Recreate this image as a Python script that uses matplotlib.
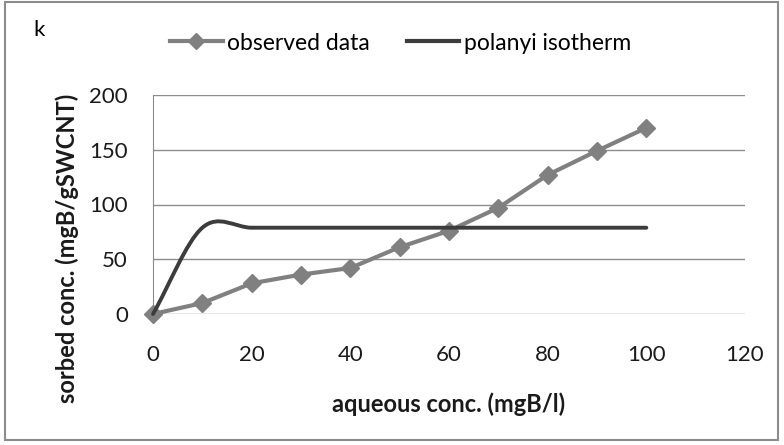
import numpy as np
import matplotlib
matplotlib.use('Agg')
import matplotlib.pyplot as plt
from matplotlib.path import Path
from matplotlib.patches import PathPatch, Rectangle
from matplotlib.lines import Line2D

plt.rcParams['font.family'] = ['Lato', 'DejaVu Sans']

## data
aqueous = [0, 10, 20, 30, 40, 50, 60, 70, 80, 90, 100]
observed = [0, 10, 28, 36, 42, 61, 76, 97, 127, 149, 170]
polanyi = [0, 78.8, 78.8, 78.8, 78.8, 78.8, 78.8, 78.8, 78.8, 78.8, 78.8]
xticks = [0, 20, 40, 60, 80, 100, 120]
yticks = [0, 50, 100, 150, 200]


def smooth_path(xs, ys):
    ## Excel-style smoothed line: cubic bezier segments through each point
    pts = np.column_stack([xs, ys]).astype(float)
    n = len(pts)
    verts = [pts[0]]
    codes = [Path.MOVETO]
    for i in range(n - 1):
        p0 = pts[i]
        p1 = pts[i + 1]
        if i == 0:
            t0 = (p1 - p0) / 3.0
        else:
            t0 = (p1 - pts[i - 1]) / 6.0
        if i + 2 < n:
            t1 = (pts[i + 2] - p0) / 6.0
        else:
            t1 = (p1 - p0) / 3.0
        verts += [p0 + t0, p1 - t1, p1]
        codes += [Path.CURVE4] * 3
    return Path(verts, codes)


fig = plt.figure(figsize=(7.84, 4.45), dpi=100)
ax = fig.add_axes([153 / 784, 1 - 314 / 445, (745 - 153) / 784, (314 - 95) / 445])

ax.set_xlim(0, 120)
ax.set_ylim(0, 200)
ax.set_xticks(xticks)
ax.set_yticks(yticks)
ax.tick_params(length=0, labelsize=16, colors='#1a1a1a')
ax.tick_params(axis='x', pad=22)
ax.tick_params(axis='y', pad=18)
ax.grid(axis='y', color='#8c8c8c', linewidth=1)
ax.set_axisbelow(True)
for side in ['top', 'right', 'bottom']:
    ax.spines[side].set_visible(False)
ax.spines['left'].set_color('#8c8c8c')

ax.plot(aqueous, observed, color='#808080', linewidth=3, marker='D',
        markersize=9.5, markeredgecolor='#808080', clip_on=False, zorder=3)
ax.add_patch(PathPatch(smooth_path(aqueous, polanyi), facecolor='none',
                       edgecolor='#3c3c3c', linewidth=2.8, capstyle='round',
                       clip_on=False, zorder=4))

## axis titles placed like the Excel chart
fig.text(449 / 784, 1 - 404 / 445, 'aqueous conc. (mgB/l)', fontsize=17,
         fontweight='bold', ha='center', va='center', color='#1a1a1a')
fig.text(67 / 784, 1 - 248 / 445, 'sorbed conc. (mgB/gSWCNT)', fontsize=17,
         fontweight='bold', ha='center', va='center', rotation=90, color='#1a1a1a')

handles = [
    Line2D([], [], color='#808080', linewidth=3, marker='D', markersize=8),
    Line2D([], [], color='#3c3c3c', linewidth=3),
]
fig.legend(handles, ['observed data', 'polanyi isotherm'], loc='center left',
           bbox_to_anchor=(170 / 784, 1 - 43 / 445), ncol=2, frameon=False,
           fontsize=16.5, handlelength=2.3, handletextpad=0.2, columnspacing=1.6,
           borderpad=0, borderaxespad=0)

fig.text(33 / 784, 1 - 36 / 445, 'k', fontsize=16)
fig.patches.append(Rectangle((5 / 784, 5 / 445), 773 / 784, 438 / 445,
                             transform=fig.transFigure, fill=False,
                             edgecolor='#8c8c8c', linewidth=1.5))

fig.savefig('out.png', dpi=100)
